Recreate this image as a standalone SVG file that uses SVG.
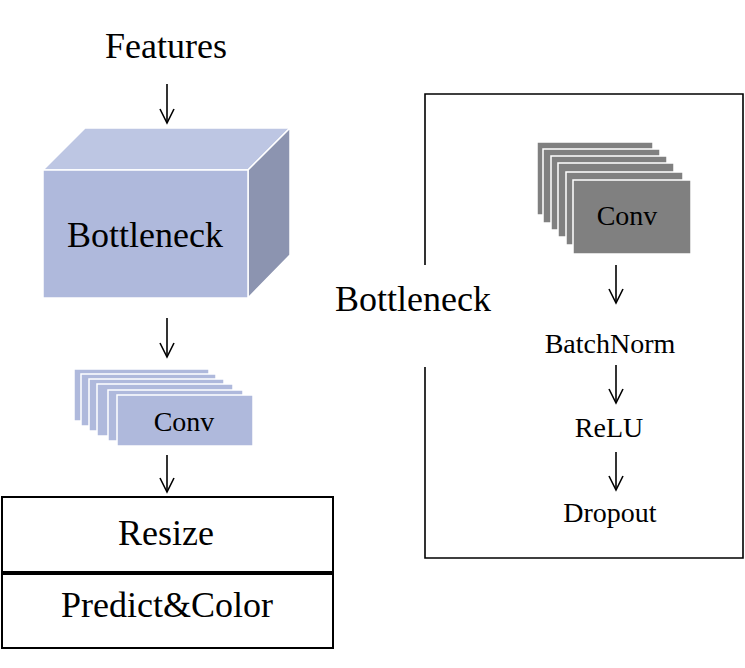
<svg xmlns="http://www.w3.org/2000/svg" width="745" height="668" viewBox="0 0 745 668">
<style>
text{font-family:"Liberation Serif","Times New Roman",serif;fill:#000;text-anchor:middle}
.big{font-size:36px}
.mid{font-size:28px}
.bl{fill:#AFB9DC;stroke:#fff;stroke-width:1.5}
.gr{fill:#808080;stroke:#fff;stroke-width:1.5}
.ln{stroke:#000;stroke-width:1.6;fill:none}
.box{fill:#fff;stroke:#000;stroke-width:2}
</style>
<defs>
<marker id="ah" markerUnits="userSpaceOnUse" orient="auto" markerWidth="20" markerHeight="20" refX="0" refY="0" viewBox="-16 -10 20 20" overflow="visible">
<path d="M-14,-7 L0,0 L-14,7" fill="none" stroke="#000" stroke-width="1.6"/>
</marker>
</defs>
<rect width="745" height="668" fill="#fff"/>
<g id="features"><text class="big" x="166" y="58">Features</text></g>
<g id="cube">
<polygon points="43,170 85,128 290,128 248,170" fill="#BDC6E3" stroke="#fff" stroke-width="1.5"/>
<polygon points="248,170 290,128 290,255 248,298" fill="#8C94B0" stroke="#fff" stroke-width="1.5"/>
<rect x="43" y="170" width="205" height="128" fill="#AFB9DC" stroke="#fff" stroke-width="1.5"/>
<text class="big" x="145" y="247">Bottleneck</text>
</g>
<g id="conv-left">
<rect class="bl" x="74" y="369" width="135" height="52"/>
<rect class="bl" x="81" y="374" width="135" height="52"/>
<rect class="bl" x="89" y="379" width="135" height="52"/>
<rect class="bl" x="97" y="384" width="136" height="52"/>
<rect class="bl" x="108" y="390" width="135" height="51"/>
<rect class="bl" x="117" y="395" width="136" height="51"/>
<text class="mid" x="184" y="431">Conv</text>
</g>
<g id="resize">
<rect class="box" x="2" y="497" width="331" height="75"/>
<text class="big" x="166" y="545">Resize</text>
</g>
<g id="predict">
<rect class="box" x="2" y="574" width="331" height="74"/>
<text class="big" x="167" y="617">Predict&amp;Color</text>
</g>
<g id="bottleneck-detail">
<path class="ln" d="M425,265 V94 H743 V558 H425 V367" stroke-width="2"/>
<text class="big" x="413" y="311">Bottleneck</text>
</g>
<g id="conv-right">
<rect class="gr" x="537" y="142" width="116" height="73"/>
<rect class="gr" x="543" y="149" width="117" height="74"/>
<rect class="gr" x="551" y="156" width="116" height="74"/>
<rect class="gr" x="558" y="163" width="116" height="74"/>
<rect class="gr" x="566" y="172" width="117" height="73"/>
<rect class="gr" x="573" y="180" width="118" height="74"/>
<text class="mid" x="627" y="225">Conv</text>
</g>
<g id="batchnorm"><text class="mid" x="610" y="353">BatchNorm</text></g>
<g id="relu"><text class="mid" x="609" y="437">ReLU</text></g>
<g id="dropout"><text class="mid" x="610" y="522">Dropout</text></g>
<g id="connectors">
<line class="ln" x1="167" y1="84" x2="167" y2="123" marker-end="url(#ah)"/>
<line class="ln" x1="167" y1="318" x2="167" y2="357" marker-end="url(#ah)"/>
<line class="ln" x1="167" y1="455" x2="167" y2="492" marker-end="url(#ah)"/>
<line class="ln" x1="616" y1="265" x2="616" y2="303" marker-end="url(#ah)"/>
<line class="ln" x1="616" y1="365" x2="616" y2="403" marker-end="url(#ah)"/>
<line class="ln" x1="616" y1="452" x2="616" y2="490" marker-end="url(#ah)"/>
</g>
</svg>
